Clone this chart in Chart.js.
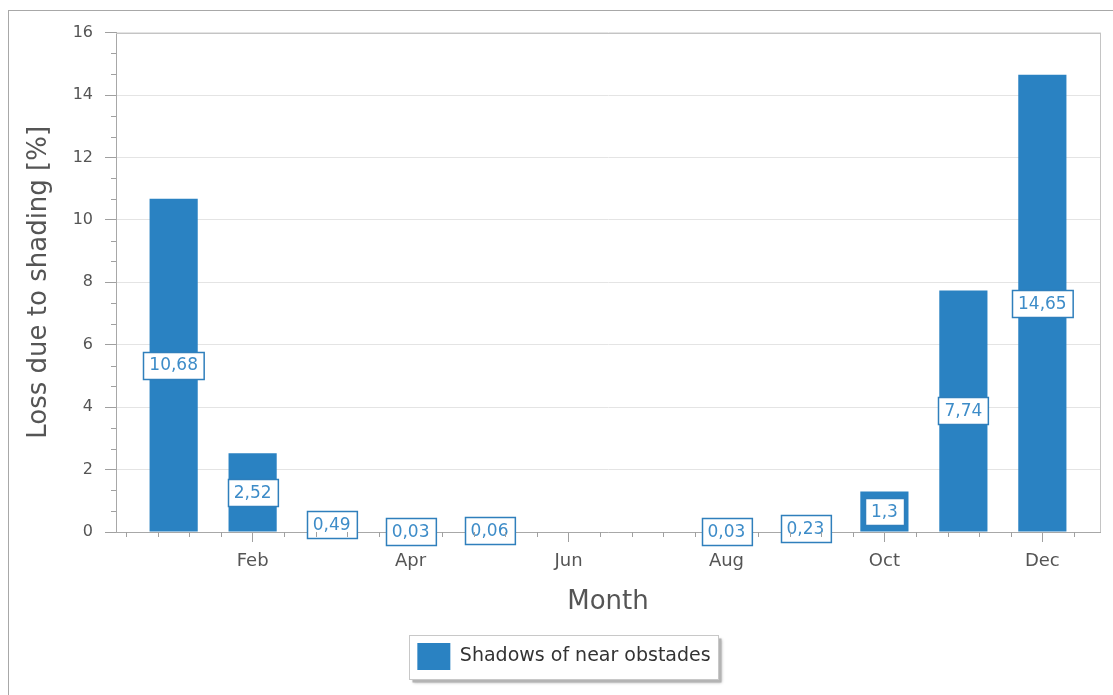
<!DOCTYPE html>
<html><head><meta charset="utf-8">
<script src="https://cdn.jsdelivr.net/npm/chart.js@4.4.1/dist/chart.umd.min.js"></script>
<style>
html,body{margin:0;padding:0;background:#fff;}
#frame{position:absolute;left:8px;top:10px;width:1120px;height:700px;border-left:1px solid #a8a8a8;border-top:1px solid #a8a8a8;}
#wrap{position:absolute;left:9px;top:11px;width:1104px;height:684px;}
</style></head>
<body><div id="frame"></div><div id="wrap"><canvas id="c"></canvas></div>
<script>
const categories = ['Jan','Feb','Mar','Apr','May','Jun','Jul','Aug','Sep','Oct','Nov','Dec'];
const shadowLoss = [10.68, 2.52, 0.49, 0.03, 0.06, null, null, 0.03, 0.23, 1.3, 7.74, 14.65];
const valueLabels = ['10,68','2,52','0,49','0,03','0,06','','','0,03','0,23','1,3','7,74','14,65'];
const xTickLabels = ['Feb','Apr','Jun','Aug','Oct','Dec'];
const yTickValues = [0, 2, 4, 6, 8, 10, 12, 14, 16];
const seriesName = 'Shadows of near obstades';

const FONT = 'DejaVu Sans';
const BAR = '#2a82c2';
const LABEL_BORDER = '#2f7fbc';
const LABEL_TEXT = '#3d8cc8';

const points = [];
categories.forEach((c, i) => { if (shadowLoss[i] !== null) points.push({x: i + 1, y: shadowLoss[i], label: valueLabels[i]}); });

const minorTicks = {
  id: 'minorTicks',
  afterDraw(chart) {
    const ctx = chart.ctx, xs = chart.scales.x, ys = chart.scales.y, a = chart.chartArea;
    ctx.save();
    ctx.strokeStyle = '#a0a0a0';
    ctx.lineWidth = 1;
    ctx.beginPath();
    for (let v = 0.4; v < xs.max; v += 0.4) {
      if (Math.abs(v / 2 - Math.round(v / 2)) < 0.01) continue;
      const px = Math.round(xs.getPixelForValue(v)) + 0.5;
      ctx.moveTo(px, a.bottom); ctx.lineTo(px, a.bottom + 5);
    }
    for (let k = 1; k < 24; k++) {
      if (k % 3 === 0) continue;
      const py = Math.round(ys.getPixelForValue(k * 2 / 3)) + 0.5;
      ctx.moveTo(a.left - 5, py); ctx.lineTo(a.left, py);
    }
    ctx.stroke();
    ctx.strokeStyle = '#c4c4c4';
    ctx.beginPath();
    ctx.moveTo(a.left, Math.round(a.top) + 0.5); ctx.lineTo(a.right, Math.round(a.top) + 0.5);
    ctx.moveTo(Math.round(a.right) + 0.5, a.top); ctx.lineTo(Math.round(a.right) + 0.5, a.bottom);
    ctx.stroke();
    ctx.restore();
  }
};

const valueBoxes = {
  id: 'valueBoxes',
  afterDatasetsDraw(chart) {
    const ctx = chart.ctx, meta = chart.getDatasetMeta(0);
    ctx.save();
    ctx.font = '17px "' + FONT + '"';
    ctx.textAlign = 'center';
    ctx.textBaseline = 'middle';
    meta.data.forEach((bar, i) => {
      const txt = chart.data.datasets[0].data[i].label;
      if (!txt) return;
      const cy = (bar.y + bar.base) / 2;
      const w = ctx.measureText(txt).width + 12, h = 27;
      const x0 = Math.round(bar.x - w / 2) + 0.5, y0 = Math.round(cy - h / 2) + 0.5;
      ctx.fillStyle = '#ffffff';
      ctx.fillRect(x0, y0, w, h);
      ctx.strokeStyle = LABEL_BORDER;
      ctx.lineWidth = 1.5;
      ctx.strokeRect(x0, y0, w, h);
      ctx.fillStyle = LABEL_TEXT;
      ctx.fillText(txt, bar.x, cy + 1);
    });
    ctx.restore();
  }
};

const legendFrame = {
  id: 'legendFrame',
  beforeDraw(chart) {
    const lg = chart.legend;
    if (!lg || !lg.legendHitBoxes || !lg.legendHitBoxes.length) return;
    const hb = lg.legendHitBoxes[0];
    const x = Math.round(hb.left - 8) + 0.5, y = Math.round(hb.top - 8) + 0.5;
    const w = Math.round(hb.width + 16), h = Math.round(hb.height + 17);
    const ctx = chart.ctx;
    ctx.save();
    ctx.fillStyle = '#b4b4b4';
    ctx.shadowColor = 'rgba(0,0,0,0.35)';
    ctx.shadowBlur = 3;
    ctx.fillRect(x + 3, y + 3, w, h);
    ctx.shadowColor = 'transparent';
    ctx.fillStyle = '#ffffff';
    ctx.fillRect(x, y, w, h);
    ctx.strokeStyle = '#c8c8c8';
    ctx.lineWidth = 1;
    ctx.strokeRect(x, y, w, h);
    ctx.restore();
  }
};

new Chart(document.getElementById('c'), {
  type: 'bar',
  data: {
    datasets: [{
      label: seriesName,
      data: points,
      backgroundColor: BAR,
      borderWidth: 0,
      categoryPercentage: 1,
      barPercentage: 0.61
    }]
  },
  options: {
    responsive: true,
    maintainAspectRatio: false,
    animation: false,
    layout: {padding: {left: 19, top: 21, right: 13, bottom: 15}},
    plugins: {
      tooltip: {enabled: false},
      legend: {
        position: 'bottom',
        align: 'center',
        labels: {
          boxWidth: 33, boxHeight: 27, padding: 16,
          color: '#333', font: {family: FONT, size: 19}
        }
      }
    },
    scales: {
      x: {
        type: 'linear',
        offset: false,
        min: 0.27, max: 12.73,
        afterBuildTicks: s => { s.ticks = xTickLabels.map(n => ({value: categories.indexOf(n) + 1})); },
        afterFit: s => { s.height = 95; },
        ticks: {
          autoSkip: false, maxRotation: 0, padding: 9,
          color: '#555', font: {family: FONT, size: 18},
          callback: v => categories[v - 1]
        },
        grid: {offset: false, drawOnChartArea: false, drawTicks: true, tickLength: 10, color: '#a0a0a0'},
        border: {display: true, color: '#a8a8a8'},
        title: {display: true, text: 'Month', color: '#555', font: {family: FONT, size: 26}, padding: {top: 0, bottom: 9}}
      },
      y: {
        min: 0, max: 16,
        afterBuildTicks: s => { s.ticks = yTickValues.map(v => ({value: v})); },
        afterFit: s => { s.width = 88; },
        ticks: {padding: 12, color: '#555', font: {family: FONT, size: 16}},
        grid: {color: '#e4e4e4', tickColor: '#a0a0a0', tickLength: 11, drawTicks: true},
        border: {display: true, color: '#a8a8a8'},
        title: {display: true, text: 'Loss due to shading [%]', color: '#555', font: {family: FONT, size: 26, lineHeight: 0.9}, padding: {top: 0, bottom: 0}}
      }
    }
  },
  plugins: [minorTicks, valueBoxes, legendFrame]
});
</script>
</body></html>
